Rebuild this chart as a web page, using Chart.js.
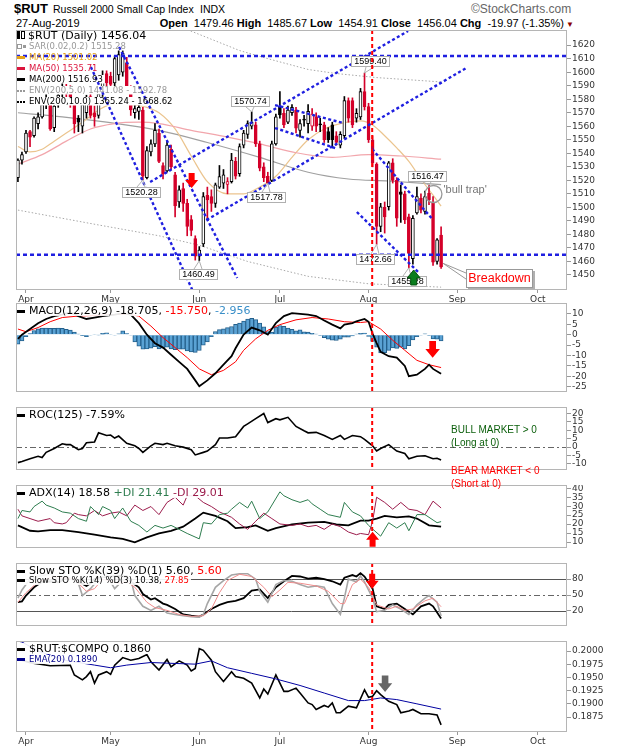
<!DOCTYPE html>
<html>
<head>
<meta charset="utf-8">
<title>$RUT Russell 2000 Small Cap Index</title>
<script src="https://cdn.jsdelivr.net/npm/chart.js@4.4.1/dist/chart.umd.min.js"></script>
<style>
  body { margin: 0; background: #fff; }
  #page { position: relative; width: 620px; height: 750px; overflow: hidden; font-family: "Liberation Sans", Arial, sans-serif; color: #000; }
  #page canvas { position: absolute; left: 0; }
  .txt { position: absolute; white-space: nowrap; line-height: 1; }
  .leg { position: absolute; left: 17px; white-space: nowrap; line-height: 1; font-family: "DejaVu Sans", Verdana, sans-serif; background: rgba(255,255,255,0.9); padding-right: 2px; z-index: 5; }
  .leg.mainleg { background: transparent; }
  .big { font-size: 11px; }
  .small { font-size: 8.5px; }
  .mk { display: inline-block; width: 8px; height: 3px; margin-right: 4px; vertical-align: middle; }
  .dots { display: inline-block; width: 8px; height: 0; border-top: 2px dotted; margin-right: 4px; vertical-align: middle; }
  .note { position: absolute; white-space: nowrap; line-height: 1; font-size: 10px; z-index: 5; }
</style>
</head>
<body>
<div id="page">
  <div class="txt" style="left:14px;top:2px;font-size:13px;font-weight:bold;">$RUT</div>
  <div class="txt" style="left:53px;top:4px;font-size:10.5px;">Russell 2000 Small Cap Index</div>
  <div class="txt" style="left:200px;top:4px;font-size:10.5px;">INDX</div>
  <div class="txt" style="left:471px;top:3px;font-size:12px;color:#666;">&copy;StockCharts.com</div>
  <div class="txt" style="left:16px;top:18px;font-size:11px;">27-Aug-2019</div>
  <div class="txt" style="right:46px;top:18px;font-size:11px;"><b>Open</b>&nbsp; 1479.46 <b>High</b>&nbsp; 1485.67 <b>Low</b>&nbsp; 1454.91 <b>Close</b>&nbsp; 1456.04 <b>Chg</b>&nbsp; -19.97 (-1.35%)<span style="color:#8b0000;font-size:8px;"> &#9660;</span></div>

  <canvas id="cMain" width="620" height="275" style="top:30px"></canvas>
  <canvas id="cMacd" width="620" height="104" style="top:303px"></canvas>
  <canvas id="cRoc" width="620" height="78" style="top:407px"></canvas>
  <canvas id="cAdx" width="620" height="78" style="top:485px"></canvas>
  <canvas id="cSto" width="620" height="78" style="top:563px"></canvas>
  <canvas id="cRatio" width="620" height="106" style="top:641px"></canvas>

  <div class="leg mainleg big" style="top:30px;"><span style="display:inline-block;width:3px;height:8px;background:#000;margin-right:1px;"></span><span style="display:inline-block;width:2px;height:6px;border:1px solid #000;margin-right:3px;"></span>$RUT (Daily) 1456.04</div>
  <div class="leg mainleg small" style="top:42px;color:#999;"><span style="display:inline-block;width:3px;height:3px;border:1px solid #999;margin-right:1px;vertical-align:middle;"></span><span style="display:inline-block;width:3px;height:3px;background:#999;margin-right:3px;vertical-align:middle;"></span>SAR(0.02,0.2) 1515.28</div>
  <div class="leg mainleg small" style="top:53px;color:#e6a117;"><span class="mk" style="background:#e6a117"></span>MA(20) 1501.02</div>
  <div class="leg mainleg small" style="top:64px;color:#dc143c;"><span class="mk" style="background:#dc143c"></span>MA(50) 1535.71</div>
  <div class="leg mainleg small" style="top:75px;color:#000;"><span class="mk" style="background:#000"></span>MA(200) 1516.93</div>
  <div class="leg mainleg small" style="top:86px;color:#999;"><span class="dots" style="border-color:#999"></span>ENV(200,5.0) 1441.08 - 1592.78</div>
  <div class="leg mainleg small" style="top:97px;color:#000;"><span class="dots" style="border-color:#000"></span>ENV(200,10.0) 1365.24 - 1668.62</div>

  <div class="leg big" style="top:305px;"><span class="mk" style="background:#000"></span>MACD(12,26,9) -18.705, <span style="color:#ff0000">-15.750</span>, <span style="color:#3a8fc8">-2.956</span></div>
  <div class="leg big" style="top:409px;"><span class="mk" style="background:#000"></span>ROC(125) -7.59%</div>
  <div class="leg big" style="top:487px;"><span class="mk" style="background:#000"></span>ADX(14) 18.58 <span style="color:#2e7d4f">+DI 21.41</span> <span style="color:#9b1b4b">-DI 29.01</span></div>
  <div class="leg big" style="top:565px;"><span class="mk" style="background:#000"></span>Slow STO %K(39) %D(1) 5.60, <span style="color:#ff0000">5.60</span></div>
  <div class="leg small" style="top:576px;"><span class="mk" style="background:#000"></span>Slow STO %K(14) %D(3) 10.38, <span style="color:#ff0000">27.85</span></div>
  <div class="leg big" style="top:643px;"><span class="mk" style="background:#000"></span>$RUT:$COMPQ 0.1860</div>
  <div class="leg small" style="top:655px;color:#00008b;"><span class="mk" style="background:#00008b"></span>EMA(20) 0.1890</div>

  <div class="note" style="left:451px;top:425px;color:#0a5e0a;">BULL MARKET &gt; 0</div>
  <div class="note" style="left:451px;top:438px;color:#0a5e0a;">(Long at 0)</div>
  <div class="note" style="left:451px;top:466px;color:#ff0000;">BEAR MARKET &lt; 0</div>
  <div class="note" style="left:451px;top:479px;color:#ff0000;">(Short at 0)</div>
</div>
<script>
// trading-day index: 0 = 1 Apr 2019, first candle is 28 Mar (-2), last is 27 Aug (103)
const FIRST_DAY = -2;
const monthDays = [0, 21, 43, 63, 85, 107, 127];
const monthNames = ["Apr", "May", "Jun", "Jul", "Aug", "Sep", "Oct"];

const opens = [1522,1535,1541,1556,1553,1562,1567,1577,1576,1559,
  1577,1585,1589,1585,1576,1566,1560,1570,1582,1570,
  1568,1584,1599,1597,1592,1598,1600,1607,1588,1570,
  1571,1572,1522,1541,1547,1555,1531,1527,1543,1524,
  1504,1514,1503,1491,1477,1464,1473,1509,1508,1503,
  1515,1518,1517,1519,1534,1525,1546,1554,1560,1561,
  1547,1530,1523,1520,1547,1574.5,1569.6,1563,1570,1572,
  1557,1565,1562,1560,1567,1561.5,1561,1556,1561,1553,
  1546,1553,1579,1579,1566,1567,1585.6,1574.5,1550,1532,
  1486,1500,1500.5,1533,1520,1511.6,1510,1493,1462,1496,
  1506.7,1497,1510.4,1503,1460,1479.46];
const highs = [1536,1541,1557,1557,1567,1570,1580,1584,1579,1580,
  1586,1593,1591,1590,1579,1568,1580,1583,1584,1575,
  1586,1601,1601,1600,1612,1618,1616,1611,1590,1576,
  1578,1574,1545,1550,1562,1558,1533,1549,1546,1526,
  1516,1518,1506,1494,1479,1471,1511,1515,1513,1518,
  1531,1528,1522,1540,1537,1547,1557,1564,1570.74,1563,
  1549,1533,1526,1549,1569,1585.6,1573,1575,1576,1574,
  1565,1568,1576,1573,1570,1566,1563,1559,1563,1556,
  1556,1582,1581,1581,1573,1588,1599.4,1577,1553,1533,
  1503,1504,1534,1536,1522,1516.6,1512,1495,1494,1515,
  1510,1512,1516.47,1508,1477,1485.67];
const lows = [1519,1532,1540,1545,1552,1558,1566,1573,1557,1556,
  1574,1581,1579,1574,1555,1556,1555,1566,1566,1560,
  1566,1582,1590,1589,1590,1594,1597,1588,1568,1566,
  1565,1520.28,1521,1538,1545,1533,1521,1526,1528,1493,
  1500,1497,1479,1479,1461,1460.49,1471,1491,1497,1500,
  1514,1514,1510,1518,1521,1523,1544,1551,1558,1545,
  1527,1519,1517.78,1519,1546,1566,1559,1562,1568,1555,
  1552,1560,1555,1557,1556,1556,1548,1548,1544,1546,
  1544,1551,1563,1559,1563,1565,1572,1548,1530,1472.66,
  1482,1481,1498,1518,1486,1488.9,1488,1455.28,1458,1495,
  1496,1495,1502,1457,1458,1454.91];
const closes = [1535,1539,1555,1552,1566,1567,1576,1581,1558,1575,
  1583,1589,1584,1577,1562,1563,1576,1581,1568,1567,
  1584,1596,1592,1591,1610,1613,1614,1590,1572,1573,
  1574,1523,1542,1547,1557,1534,1525,1546,1530,1501,
  1513,1503,1486,1483,1464,1468.5,1508,1505.5,1503,1516.6,
  1522.7,1524,1519,1535,1523,1545,1555,1562,1563,1547,
  1529,1522,1518,1547,1567,1568.3,1561,1572,1574,1558.5,
  1562,1564.5,1571,1569,1560,1561,1550,1550,1550,1548,
  1554,1579,1566,1561,1569.6,1585.6,1574.5,1550,1533,1486,
  1500.5,1493,1533,1520,1492,1509.5,1490.7,1466,1492,1508,
  1498,1508,1505.5,1459.5,1476.01,1456.04];

// overlays as [day, value]
const ma20 = [[-2,1545],[1,1541],[4,1543],[7,1549],[10,1555],[14,1563],[18,1572],[22,1577],[26,1576],[30,1574],[33,1570],[37,1558],[41,1538],[45,1519],[50,1510],[54,1510],[58,1515],[62,1523],[66,1537],[70,1550],[74,1558],[78,1562],[83,1564],[86,1561],[89,1553],[92,1544],[95,1534],[98,1521],[101,1509],[103,1501]];
const ma50 = [[-2,1532],[4,1539],[10,1549],[16,1558],[22,1562],[28,1563],[33,1562],[41,1557],[50,1552],[58,1547],[66,1541],[76,1537],[85,1539],[93,1538],[103,1535.7]];
const ma200 = [[-2,1570],[9,1567],[20,1563],[33,1557],[45,1548],[58,1537],[70,1526],[80,1521],[90,1519.5],[103,1516.9]];
const envUpper = [[36,1636],[39,1632.7],[53,1616],[60,1610],[70,1602],[77,1599],[87,1596],[103,1592.8]];
const envLower = [[-2,1498],[18,1487],[33,1479],[43,1472],[55,1460],[70,1449],[85,1443.5],[103,1441]];

const macdLine = [[-2,-2],[-1,0],[1,2.7],[3,5.5],[5,7.5],[7,8.9],[9,9.6],[11,10.8],[13,8.9],[15,7.5],[17,8.2],[19,8.9],[22,9.6],[24,10.3],[26,9.6],[28,5.5],[30,0],[32,-4.1],[34,-6.2],[36,-9.6],[38,-13],[40,-16.4],[42,-21.9],[43,-24.7],[45,-21.9],[47,-18.5],[49,-14.4],[51,-10.3],[52,-6.5],[54,0],[56,3.4],[58,2.1],[60,0],[62,5.5],[64,8.9],[66,10.3],[68,10],[70,9.6],[72,8.9],[74,6.8],[76,4.8],[78,3],[79,4.8],[81,5.5],[82,6.4],[84,7.5],[85,6.2],[86,0.5],[87,-4],[88,-8.2],[90,-10.3],[92,-11],[94,-15],[95,-19.9],[97,-19.2],[99,-16.4],[100,-14.4],[101,-16.4],[103,-18.705]];
const macdSignal = [[-2,2.7],[0,1.4],[3,3.4],[6,6.2],[9,8.2],[13,8.9],[18,9.3],[22,9.6],[25,9.9],[28,8.9],[31,4.1],[34,-1.4],[37,-6.2],[40,-11],[43,-16.4],[46,-19.2],[49,-17.1],[52,-13],[54,-7.5],[57,-2],[60,2.1],[63,4.8],[67,7.1],[71,8.2],[75,7.5],[79,6.2],[83,5.8],[85,6.2],[88,2.7],[91,-2.7],[94,-7.5],[97,-12.3],[100,-14.4],[103,-15.75]];
const macdHist = [-4.5,-3,-1,0.5,2,2.8,3.2,3.2,3,3,
  3.2,3,2.6,2.2,1.2,0.3,-0.5,-1,-0.3,0.2,
  -0.2,0.6,0.9,0.2,-0.3,0.4,1.8,0.5,-0.3,-3.5,
  -5.5,-7,-6.8,-6.5,-5.8,-6.8,-6.5,-6,-6.8,-7.2,
  -7,-7,-7.8,-8.3,-8.5,-7.6,-5,-3.5,-1,1.5,
  2.4,2.8,3.4,3.9,4.9,5.5,6.5,7.4,7.8,7.2,
  5.5,3.8,1.5,1.2,3.6,4.4,4,3.2,2.5,1.8,
  2.3,1.4,1.2,0.6,0.3,-0.4,-1.4,-2.2,-2.6,-2.8,
  -2.2,-1.2,-1.2,-0.6,0.3,0.6,0.8,-0.8,-3.2,-6,
  -8.8,-8.6,-7.5,-6.4,-6.6,-6,-6.8,-5.3,-2.5,-1,
  -0.3,0.4,-0.4,-2.1,-2.2,-2.956];

const rocLine = [[-2,-9.2],[-1,-8.5],[1,-6.9],[3,-5.4],[4,-6.2],[5,-3.1],[7,-0.8],[9,2],[10,1.5],[11,1.5],[13,-1.5],[14,-0.8],[15,2.6],[17,3.1],[18,8.5],[20,6.9],[21,7.2],[22,5.4],[23,6.6],[25,2.3],[27,0.8],[28,-0.8],[29,-3.1],[31,0.8],[32,2.3],[34,1.5],[35,2.3],[37,0.8],[39,0],[41,-1.5],[42,-4.6],[44,-3.1],[45,-2.3],[47,1.5],[48,5.4],[50,5.4],[52,6.2],[54,12.3],[55,13.8],[57,16.9],[59,20],[60,14.6],[62,16.9],[63,16.2],[65,17.7],[67,12.3],[69,9.7],[70,8.5],[72,8.8],[74,6.9],[76,4.6],[78,6.9],[79,4.6],[81,6.9],[83,6.2],[84,4.6],[86,0.8],[87,-2.3],[88,-0.8],[90,1.5],[92,-2.3],[94,-3.8],[95,-6.9],[97,-5.4],[99,-5.1],[101,-6.9],[102,-6.6],[103,-7.59]];

const adxLine = [[-2,19.3],[1,16.3],[3,16],[6,16.7],[9,16.7],[13,15.6],[17,14.1],[21,12.6],[24,11.8],[27,9.9],[30,12.6],[33,14.8],[36,16.3],[39,18.6],[42,23.1],[44,26.4],[47,24.6],[50,21.6],[52,17.8],[55,18.3],[57,19.3],[60,16.3],[62,17.8],[66,19.8],[70,20.8],[74,21.3],[77,19.8],[80,19.3],[83,21.9],[85,21.9],[87,23.1],[89,24.6],[92,23.8],[95,24.3],[97,23.1],[100,19.3],[103,18.58]];
const plusDI = [[-2,23.1],[-1,27.6],[1,26.8],[2,29.8],[4,32.8],[5,30.6],[7,29],[9,26.8],[11,26.1],[13,23.1],[15,21.6],[16,29.8],[18,25.3],[19,29.8],[21,27.6],[22,23.1],[24,29],[26,21.6],[28,19.3],[30,15.6],[32,19.3],[34,17.8],[36,19.3],[38,17.1],[40,14.8],[43,11.8],[44,20.8],[46,20.1],[48,25.3],[50,26.1],[51,28.3],[53,32.1],[55,29],[56,32.8],[58,23.1],[60,26.8],[63,38],[64,35.8],[66,33.6],[68,32.1],[70,33.6],[71,31.3],[73,28.3],[75,25.3],[78,23.8],[79,32.1],[81,26.8],[83,24.6],[85,19.3],[88,13.3],[90,20.8],[92,17.8],[94,20.8],[95,16.3],[97,25.3],[99,25.3],[101,22.3],[102,20.8],[103,21.41]];
const minusDI = [[-2,28.3],[-1,24.6],[1,23.1],[3,21.6],[6,23.1],[7,20.8],[9,20.1],[10,20.8],[12,26.1],[13,25.3],[15,24.6],[17,27.6],[19,24.6],[21,26.1],[23,26.8],[25,24.6],[27,30.6],[29,27.6],[31,29.8],[33,25.3],[35,32.1],[37,35],[39,30.6],[40,35.8],[42,35.8],[44,32.1],[46,29.8],[48,26.8],[51,23.8],[53,20.1],[55,17.1],[57,21.6],[59,26.1],[61,23.1],[63,20.1],[66,19.3],[68,20.1],[70,18.6],[72,19.3],[74,17.1],[76,20.1],[78,18.6],[80,15.6],[82,14.1],[83,14.8],[85,14.1],[86,21.6],[87,35],[89,32.1],[91,28.3],[93,32.1],[95,28.3],[97,27.6],[99,25.3],[101,32.8],[103,29.01]];

const sto39K = [[-2,36.4],[-1,38],[0,49],[2,64.6],[4,75],[6,76],[8,74],[9,77.4],[10,82],[12,80],[13,75],[15,67.2],[16,72.3],[17,80],[19,84],[23,86],[25,85],[26,75],[28,64.6],[29,51.8],[31,41.5],[32,44],[34,33.8],[35,31.3],[37,23.6],[39,13.3],[41,10.8],[43,9.2],[44,13.3],[46,23.6],[48,31.3],[50,36.4],[52,39],[54,44],[56,58.5],[58,60.5],[60,44],[62,64.6],[64,76],[66,86],[68,85],[70,81],[72,82.6],[74,80],[76,76],[78,69.7],[79,82.6],[81,87.7],[82,85],[83,91.3],[84,85],[86,62],[87,28.7],[89,23.6],[90,31.3],[92,33.8],[94,23.6],[96,13.3],[98,28.7],[100,33.8],[101,28.7],[103,5.6]];
const sto14K = [[-2,44],[-1,59.5],[1,80],[3,85],[6,90],[8,80],[10,85],[13,72],[14,49],[16,62],[18,80],[20,87.7],[22,62],[24,77.4],[26,80],[27,49],[29,28.7],[31,21],[33,28.7],[35,16],[37,13.3],[39,10.8],[41,9.2],[43,8.2],[44,13.3],[45,33.8],[47,64.6],[49,77.4],[51,87.7],[53,90.3],[55,90.3],[57,80],[58,57],[60,36.4],[62,69.7],[64,77.4],[66,76],[68,69.7],[70,64.6],[72,67.2],[74,64.6],[76,33.8],[78,13.3],[79,44],[80,80],[82,75],[83,86],[84,75],[86,44],[87,18.5],[89,21],[91,31.3],[93,23.6],[95,13.3],[97,31.3],[99,44],[100,49],[102,36.4],[103,10.38]];
const sto3D = [[-2,36.4],[0,54.4],[3,75],[7,85],[12,80],[15,57],[17,62],[19,80],[23,72],[25,75],[27,64.6],[30,36.4],[32,26.2],[35,21],[38,13.3],[41,9.7],[44,10.8],[46,23.6],[48,54.4],[50,77.4],[53,89.2],[56,85],[59,64.6],[61,46.7],[63,59.5],[65,74],[68,72.3],[72,67.2],[75,57],[78,33.8],[79,33.8],[81,69.7],[83,80],[85,64.6],[87,31.3],[90,23.6],[92,28.7],[94,21],[96,23.6],[99,39],[101,44],[103,27.85]];

const ratioLine = [[-2,0.1985],[1,0.1978],[6,0.1972],[11,0.1973],[12,0.19546],[14,0.19453],[15,0.19515],[16,0.19608],[17,0.19391],[18,0.19546],[20,0.19608],[21,0.19558],[22,0.19733],[24,0.19876],[26,0.19826],[28,0.19857],[30,0.19932],[31,0.19795],[33,0.19639],[35,0.19838],[36,0.19701],[38,0.19813],[40,0.19733],[41,0.19621],[42,0.1967],[43,0.20044],[44,0.20012],[46,0.19826],[47,0.19608],[49,0.19422],[51,0.19608],[52,0.19515],[54,0.19484],[56,0.19391],[58,0.19111],[59,0.19279],[60,0.19185],[62,0.19546],[64,0.19235],[65,0.19235],[67,0.19297],[68,0.19204],[70,0.19017],[71,0.18986],[72,0.18893],[74,0.18968],[75,0.18937],[76,0.19017],[77,0.18831],[78,0.18831],[80,0.18955],[82,0.18924],[84,0.19266],[85,0.19123],[86,0.19142],[87,0.19247],[88,0.19173],[90,0.19048],[92,0.18986],[93,0.18831],[95,0.18862],[96,0.18893],[98,0.18812],[100,0.18812],[102,0.18787],[103,0.1860]];
const emaLine = [[-2,0.20187],[-1,0.2017],[3,0.2000],[10,0.1982],[17,0.19733],[21,0.19683],[25,0.19733],[31,0.19782],[37,0.19764],[42,0.19751],[46,0.19813],[50,0.19683],[56,0.19577],[62,0.19471],[68,0.19347],[74,0.19204],[80,0.19061],[84,0.19061],[88,0.19111],[92,0.1908],[97,0.18999],[103,0.1890]];

const priceTicks = [1620,1610,1600,1590,1580,1570,1560,1550,1540,1530,1520,1510,1500,1490,1480,1470,1460,1450];
const macdTicks = [10,5,0,-5,-10,-15,-20,-25];
const rocTicks = [20,15,10,5,0,-5,-10];
const adxTicks = [40,35,30,25,20,15,10];
const stoTicks = [80,50,20];
const ratioTicks = [0.2,0.1975,0.195,0.1925,0.19,0.1875];

// drawn annotations: trend lines [day1, price1, day2, price2]
const trendLines = [
  [16.1,1603.8,42.4,1431.5], [23.1,1618.6,52.4,1447.8],
  [44.8,1490.7,109.2,1603], [30.8,1518.8,94.8,1630.5],
  [61.8,1575.7,78.7,1562.4], [61.8,1558.7,76.7,1543.9],
  [85.9,1543.2,101,1490.7], [82.1,1496.6,97.3,1452.2]
];
const flatLines = [1612, 1465];
const RED_LINE_DAY = 85.9;
const priceNotes = [
  { d: 84, v: 1599.4, text: "1599.40", dx: 5, dy: -12 },
  { d: 56, v: 1570.74, text: "1570.74", dx: -2, dy: -11 },
  { d: 29, v: 1520.28, text: "1520.28", dx: -2, dy: 12 },
  { d: 60, v: 1517.78, text: "1517.78", dx: -2, dy: 14 },
  { d: 43, v: 1460.49, text: "1460.49", dx: -1, dy: 13 },
  { d: 87, v: 1472.66, text: "1472.66", dx: -2, dy: 15 },
  { d: 95, v: 1455.28, text: "1455.28", dx: -2, dy: 13 },
  { d: 100, v: 1516.47, text: "1516.47", dx: -2, dy: -9 }
];
const bullTrap = { d: 101.1, v: 1509.9 };
const breakdown = { d: 103.5, v: 1458.6 };

// ---- layout of the panels
const X_MIN = -2.48, X_MAX = 134.24, PAD_L = 16, AXIS_W = 53;
const RED = "#d4002a", BLUE = "#1f1fe0";

Chart.defaults.font.family = '"DejaVu Sans", Verdana, sans-serif';
Chart.defaults.font.size = 9;
Chart.defaults.color = "#333";

const pts = arr => arr.map(([d, v]) => ({ x: d, y: v }));
const byDay = arr => arr.map((v, i) => ({ x: FIRST_DAY + i, y: v }));

function lineDs(arr, color, width, extra) {
  return Object.assign({ type: "line", data: pts(arr), borderColor: color, borderWidth: width,
    pointRadius: 0, fill: false, tension: 0 }, extra || {});
}

function xAxis(show) {
  return {
    type: "linear", min: X_MIN, max: X_MAX, offset: false, display: show,
    grid: { drawOnChartArea: false, tickLength: 3, color: "#999", offset: false },
    border: { display: false },
    ticks: { autoSkip: false, maxRotation: 0, padding: 1, color: "#333",
      callback: v => { const k = monthDays.indexOf(v); return k < 0 ? "" : monthNames[k]; } },
    afterBuildTicks: s => { s.ticks = monthDays.map(v => ({ value: v })); },
    afterFit: s => { s.height = 15; s.paddingLeft = 0; s.paddingRight = 0; }
  };
}

function yAxis(min, max, ticks, fmt) {
  return {
    position: "right", min: min, max: max,
    grid: { drawOnChartArea: false, tickLength: 4, color: "#999" },
    border: { display: false },
    ticks: { autoSkip: false, padding: 1, color: "#333", callback: fmt || (v => v) },
    afterBuildTicks: s => { s.ticks = ticks.map(v => ({ value: v })); },
    afterFit: s => { s.width = AXIS_W; s.paddingTop = 0; s.paddingBottom = 0; }
  };
}

function options(y, showX) {
  return {
    responsive: false, animation: false, events: [],
    layout: { padding: { left: PAD_L, right: 0, top: 0, bottom: 0 } },
    plugins: { legend: { display: false }, tooltip: { enabled: false } },
    scales: { x: xAxis(showX), y: y }
  };
}

function drawArrow(ctx, px, py, ar) {
  const s = ar.size || 1, k = ar.dir === "down" ? -1 : 1;
  const hw = 6.5 * s, sw = 3 * s, hh = 8 * s, total = 15 * s;
  ctx.beginPath();
  ctx.moveTo(px, py);
  ctx.lineTo(px + hw, py + k * hh);
  ctx.lineTo(px + sw, py + k * hh);
  ctx.lineTo(px + sw, py + k * total);
  ctx.lineTo(px - sw, py + k * total);
  ctx.lineTo(px - sw, py + k * hh);
  ctx.lineTo(px - hw, py + k * hh);
  ctx.closePath();
  ctx.fillStyle = ar.color;
  ctx.fill();
  if (ar.edge) { ctx.strokeStyle = ar.edge; ctx.lineWidth = 1; ctx.stroke(); }
}

// panel frame, reference lines, the red vertical marker and arrows
function framePlugin(hlines, arrows) {
  return {
    id: "frame",
    beforeDatasetsDraw(chart) {
      const { ctx, chartArea: a, scales: { y } } = chart;
      ctx.save();
      hlines.forEach(h => {
        const py = Math.round(y.getPixelForValue(h.v)) + 0.5;
        ctx.strokeStyle = h.color; ctx.lineWidth = 1; ctx.setLineDash(h.dash);
        ctx.beginPath(); ctx.moveTo(a.left, py); ctx.lineTo(a.right, py); ctx.stroke();
      });
      ctx.restore();
    },
    afterDraw(chart) {
      const { ctx, chartArea: a, scales: { x, y } } = chart;
      ctx.save();
      const rx = x.getPixelForValue(RED_LINE_DAY);
      ctx.strokeStyle = "#ff0000"; ctx.lineWidth = 2; ctx.setLineDash([4, 3]);
      ctx.beginPath(); ctx.moveTo(rx, a.top); ctx.lineTo(rx, a.bottom); ctx.stroke();
      ctx.setLineDash([]);
      arrows.forEach(ar => drawArrow(ctx, x.getPixelForValue(ar.d), y.getPixelForValue(ar.v), ar));
      ctx.strokeStyle = "#b5b5b5"; ctx.lineWidth = 1;
      ctx.strokeRect(Math.round(a.left) + 0.5, Math.round(a.top) + 0.5,
        Math.round(a.right - a.left) - 1, Math.round(a.bottom - a.top) - 1);
      ctx.restore();
    }
  };
}

// white boxes behind the price-panel legend: they hide candles and averages,
// while the hand-drawn trend lines (order 1) still run over them
const legendBoxes = {
  id: "legendBoxes",
  beforeDraw(chart) { chart.$legendDone = false; },
  beforeDatasetDraw(chart, args) {
    if (chart.$legendDone || chart.data.datasets[args.index].order !== 1) return;
    chart.$legendDone = true;
    const { ctx, canvas } = chart;
    const c = canvas.getBoundingClientRect();
    ctx.save();
    ctx.fillStyle = "#fff";
    document.querySelectorAll(".mainleg").forEach(el => {
      const r = el.getBoundingClientRect();
      ctx.fillRect(r.left - c.left, r.top - c.top, r.width, r.height);
    });
    ctx.restore();
  }
};

const notesPlugin = {
  id: "notes",
  afterDatasetsDraw(chart) {
    const { ctx, scales: { x, y } } = chart;
    ctx.save();
    ctx.font = '9px "Liberation Sans", Arial, sans-serif';
    ctx.textAlign = "center"; ctx.textBaseline = "middle";
    priceNotes.forEach(n => {
      const px = x.getPixelForValue(n.d), py = y.getPixelForValue(n.v);
      const w = Math.round(ctx.measureText(n.text).width) + 6, h = 11;
      const cx = Math.round(px + n.dx), cy = Math.round(py + n.dy);
      const left = Math.round(cx - w / 2), top = Math.round(cy - h / 2);
      const edge = n.dy < 0 ? top + h : top;
      ctx.strokeStyle = "#b0b0b0"; ctx.lineWidth = 1;
      ctx.beginPath(); ctx.moveTo(cx - 4, edge); ctx.lineTo(px, py); ctx.lineTo(cx + 4, edge); ctx.stroke();
      ctx.fillStyle = "#fff"; ctx.fillRect(left, top, w, h);
      ctx.strokeRect(left + 0.5, top + 0.5, w - 1, h - 1);
      ctx.fillStyle = "#000"; ctx.fillText(n.text, left + w / 2, top + h / 2 + 0.5);
    });
    // 'bull trap' circle
    const bx = x.getPixelForValue(bullTrap.d), by = y.getPixelForValue(bullTrap.v);
    ctx.strokeStyle = "#999"; ctx.lineWidth = 1.3;
    ctx.beginPath(); ctx.arc(bx, by, 8.5, 0, Math.PI * 2); ctx.stroke();
    ctx.fillStyle = "#777"; ctx.font = '11px "Liberation Sans", Arial, sans-serif';
    ctx.textAlign = "left"; ctx.fillText("'bull trap'", bx + 10, by - 4);
    // Breakdown callout
    const kx = x.getPixelForValue(breakdown.d), ky = y.getPixelForValue(breakdown.v);
    const L = Math.round(kx + 23), T = Math.round(ky + 6);
    ctx.strokeStyle = "#999"; ctx.lineWidth = 1;
    ctx.beginPath(); ctx.moveTo(L, T + 4); ctx.lineTo(kx, ky); ctx.lineTo(L, T + 10); ctx.stroke();
    ctx.fillStyle = "#b0b0b0"; ctx.fillRect(L + 2, T + 2, 67, 19);
    ctx.fillStyle = "#fff"; ctx.fillRect(L, T, 67, 19);
    ctx.strokeRect(L + 0.5, T + 0.5, 66, 18);
    ctx.fillStyle = "#ff0000"; ctx.font = '12.5px "Liberation Sans", Arial, sans-serif';
    ctx.textAlign = "center"; ctx.fillText("Breakdown", L + 33.5, T + 10);
    ctx.restore();
  }
};

// ---- price panel
const candleColor = closes.map((c, i) => (i > 0 && c < closes[i - 1]) ? RED : "#000");
const bodyFill = closes.map((c, i) => c < opens[i] ? candleColor[i] : "#fff");

new Chart(document.getElementById("cMain"), {
  type: "bar",
  data: {
    datasets: [
      lineDs(envLower, "#a8a8a8", 1, { borderDash: [1.5, 2], order: 12 }),
      lineDs(envUpper, "#a8a8a8", 1, { borderDash: [1.5, 2], order: 12 }),
      lineDs(ma200, "#a0a0a0", 1.2, { cubicInterpolationMode: "monotone", order: 11 }),
      lineDs(ma50, "#f2a6ac", 1.2, { cubicInterpolationMode: "monotone", order: 10 }),
      lineDs(ma20, "#ebc48e", 1.2, { cubicInterpolationMode: "monotone", order: 10 }),
      { type: "bar", data: lows.map((l, i) => ({ x: FIRST_DAY + i, y: [l, highs[i]] })),
        backgroundColor: candleColor, barThickness: 1, grouped: false, order: 5 },
      { type: "bar", data: opens.map((o, i) => ({ x: FIRST_DAY + i, y: [o, closes[i]] })),
        backgroundColor: bodyFill, borderColor: candleColor, borderWidth: 1, borderSkipped: false,
        barThickness: 3, minBarLength: 1, grouped: false, order: 4 },
      ...trendLines.map(t => lineDs([[t[0], t[1]], [t[2], t[3]]], BLUE, 2.4, { borderDash: [3, 2.5], order: 1 })),
      ...flatLines.map(p => lineDs([[X_MIN, p], [X_MAX, p]], BLUE, 2.4, { borderDash: [4, 3], order: 1 }))
    ]
  },
  options: options(yAxis(1438.9, 1631.2, priceTicks), true),
  plugins: [legendBoxes, notesPlugin, framePlugin([], [
    { d: 41.1, v: 1514.3, dir: "down", color: "#ff0000" },
    { d: 96.2, v: 1453.7, dir: "up", color: "#0a7d1e", edge: "#05500f" }
  ])]
});

// ---- MACD
new Chart(document.getElementById("cMacd"), {
  type: "bar",
  data: {
    datasets: [
      { type: "bar", data: byDay(macdHist), backgroundColor: "#5aa2d4", borderColor: "#24608c",
        borderWidth: 1, barThickness: 4, grouped: false, order: 3 },
      lineDs(macdSignal, "#ff0000", 1, { order: 2 }),
      lineDs(macdLine, "#000", 1.8, { order: 1 })
    ]
  },
  options: options(yAxis(-27.46, 15.16, macdTicks), false),
  plugins: [framePlugin([], [{ d: 100.9, v: -11.1, dir: "down", color: "#ff0000", size: 1.12 }])]
});

// ---- ROC
new Chart(document.getElementById("cRoc"), {
  type: "line",
  data: { datasets: [lineDs(rocLine, "#000", 1.6)] },
  options: options(yAxis(-13.57, 23.84, rocTicks), false),
  plugins: [framePlugin([{ v: 0, color: "#666", dash: [6, 3, 2, 3] }], [])]
});

// ---- ADX
new Chart(document.getElementById("cAdx"), {
  type: "line",
  data: { datasets: [
    lineDs(plusDI, "#2e7d4f", 1),
    lineDs(minusDI, "#9b1b4b", 1),
    lineDs(adxLine, "#000", 1.8)
  ] },
  options: options(yAxis(6.7, 41.8, adxTicks), false),
  plugins: [framePlugin([], [{ d: 86, v: 15.7, dir: "up", color: "#ff0000" }])]
});

// ---- Slow stochastics
new Chart(document.getElementById("cSto"), {
  type: "line",
  data: { datasets: [
    lineDs(sto3D, "#f08c8c", 1),
    lineDs(sto14K, "#a6a6a6", 1.6),
    lineDs(sto39K, "#000", 1.8)
  ] },
  options: options(yAxis(-8.55, 110.5, stoTicks), false),
  plugins: [framePlugin([
    { v: 80, color: "#555", dash: [] },
    { v: 50, color: "#666", dash: [6, 3, 2, 3] },
    { v: 20, color: "#555", dash: [] }
  ], [{ d: 85.9, v: 61.7, dir: "down", color: "#ff0000" }])]
});

// ---- $RUT:$COMPQ ratio
new Chart(document.getElementById("cRatio"), {
  type: "line",
  data: { datasets: [
    lineDs(emaLine, "#0000a0", 1),
    lineDs(ratioLine, "#000", 1.6)
  ] },
  options: options(yAxis(0.18466, 0.201894, ratioTicks, v => v.toFixed(4)), true),
  plugins: [framePlugin([], [{ d: 89.1, v: 0.19224, dir: "down", color: "#666", size: 1.1 }])]
});
</script>
</body>
</html>
